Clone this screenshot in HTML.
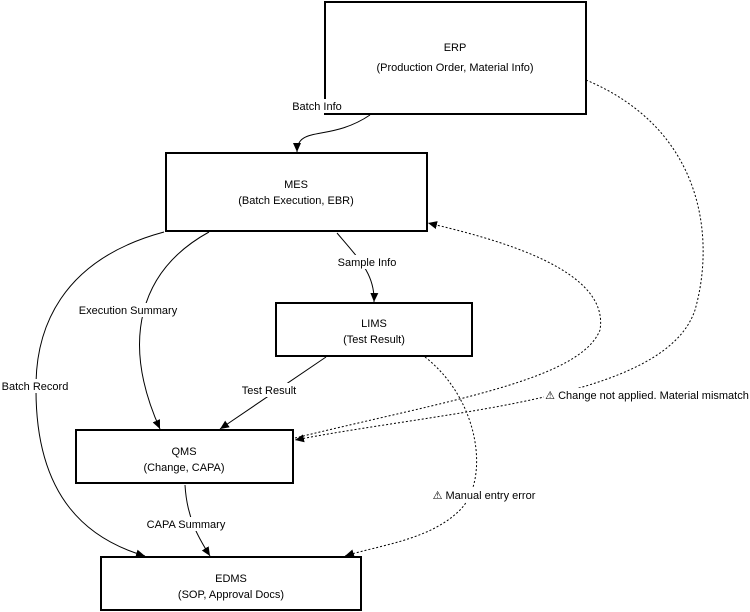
<!DOCTYPE html>
<html><head><meta charset="utf-8"><style>
body{margin:0;background:#fff;}
svg{display:block;font-family:"Liberation Sans",sans-serif;}
text{font-size:11px;fill:#000;text-anchor:middle;}
.b{fill:#fff;stroke:#000;stroke-width:2;}
.l{fill:none;stroke:#000;stroke-width:1;}
.d{fill:none;stroke:#000;stroke-width:1;stroke-dasharray:2,2;}
.lb{fill:#fff;}
</style></head><body>
<svg width="750" height="612" viewBox="0 0 750 612">
<defs><marker id="a" markerWidth="10" markerHeight="10" refX="9" refY="5" orient="auto" markerUnits="userSpaceOnUse"><path d="M0,1 L9,5 L0,9 z" fill="#000"/></marker></defs>
<rect class="b" x="325" y="2" width="261" height="112"/>
<text x="455" y="51">ERP</text><text x="455" y="71">(Production Order, Material Info)</text>
<rect class="b" x="166" y="153" width="261" height="78"/>
<text x="296" y="188">MES</text><text x="296" y="204">(Batch Execution, EBR)</text>
<rect class="b" x="276" y="303" width="196" height="53"/>
<text x="374" y="327">LIMS</text><text x="374" y="343">(Test Result)</text>
<rect class="b" x="76" y="430" width="217" height="53"/>
<text x="184" y="455">QMS</text><text x="184" y="471">(Change, CAPA)</text>
<rect class="b" x="101" y="557" width="260" height="53"/>
<text x="231" y="582">EDMS</text><text x="231" y="598">(SOP, Approval Docs)</text>
<path class="l" d="M370,115 L335,140 C305,120 297,135 297,152" marker-end="url(#a)" style="display:none"/>
<path class="l" d="M370,115 C330,142 297,125 297,152" marker-end="url(#a)"/>
<path class="l" d="M337,233 C360,260 375,275 374,302" marker-end="url(#a)"/>
<path class="l" d="M209,232 C140,270 120,340 160,429" marker-end="url(#a)"/>
<path class="l" d="M164,232 C60,260 35,330 36,390 C36,500 90,540 145,556" marker-end="url(#a)"/>
<path class="l" d="M326,357 L220,429" marker-end="url(#a)"/>
<path class="l" d="M185,485 C187,520 200,540 210,556" marker-end="url(#a)"/>
<path class="d" d="M425,357 C480,400 490,480 460,510 C430,540 380,545 345,556" marker-end="url(#a)"/>
<path class="d" d="M586,80 C705,130 715,240 695,310 C665,400 450,410 295,440" marker-end="url(#a)"/>
<path class="d" d="M295,438 C450,400 580,380 600,330 C610,270 500,240 428,223" marker-end="url(#a)"/>
<rect class="lb" x="288" y="99" width="58" height="14"/><text x="317" y="110">Batch Info</text>
<rect class="lb" x="335" y="255" width="64" height="14"/><text x="367" y="266">Sample Info</text>
<rect class="lb" x="78" y="303" width="100" height="14"/><text x="128" y="314">Execution Summary</text>
<rect class="lb" x="0" y="379" width="70" height="14"/><text x="35" y="390">Batch Record</text>
<rect class="lb" x="240" y="383" width="58" height="14"/><text x="269" y="394">Test Result</text>
<rect class="lb" x="146" y="517" width="80" height="14"/><text x="186" y="528">CAPA Summary</text>
<rect class="lb" x="432" y="488" width="106" height="14"/><text x="484" y="499">⚠ Manual entry error</text>
<rect class="lb" x="544" y="388" width="206" height="14"/><text x="647" y="399">⚠ Change not applied. Material mismatch</text>
</svg>
</body></html>
